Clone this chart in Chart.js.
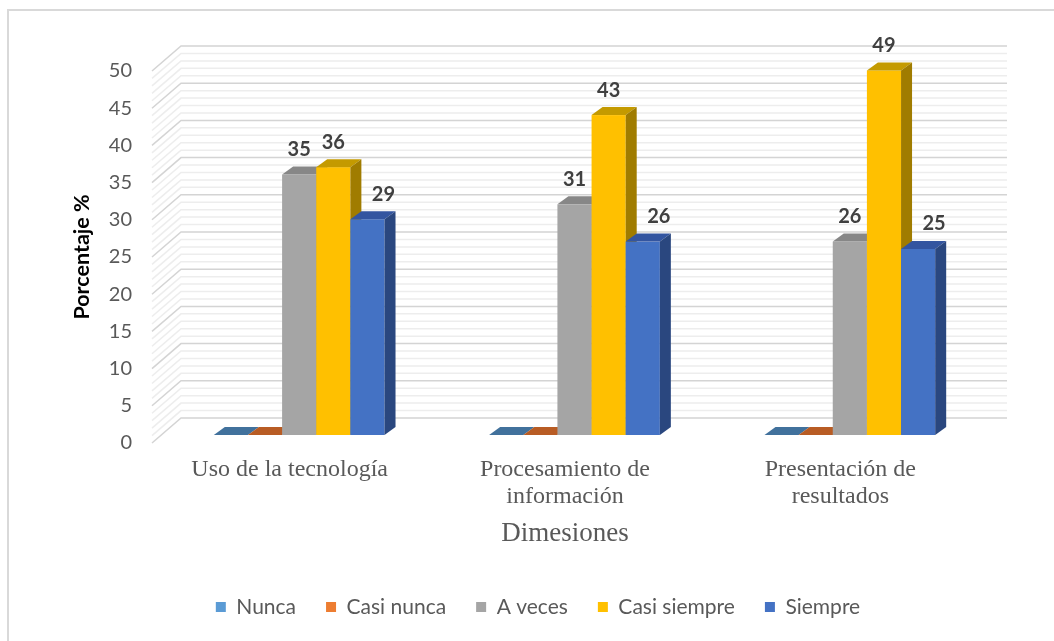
<!DOCTYPE html>
<html>
<head>
<meta charset="utf-8">
<script src="https://cdn.jsdelivr.net/npm/chart.js@4"></script>
<style>
  body { margin: 0; background: #fff; }
</style>
</head>
<body>
<canvas id="chart" width="1054" height="641"></canvas>
<script>
// Data
const categories = [
  ["Uso de la tecnología"],
  ["Procesamiento de", "información"],
  ["Presentación de", "resultados"]
];
const seriesNames = ["Nunca", "Casi nunca", "A veces", "Casi siempre", "Siempre"];
const nunca = [0, 0, 0];
const casiNunca = [0, 0, 0];
const aVeces = [35, 31, 26];
const casiSiempre = [36, 43, 49];
const siempre = [29, 26, 25];
const yTicks = [0, 5, 10, 15, 20, 25, 30, 35, 40, 45, 50];

// Face colours (front, top, side)
const frontColors = ["#5B9BD5", "#ED7D31", "#A5A5A5", "#FFC000", "#4472C4"];
const topColors = ["#41719C", "#B85C24", "#878787", "#C49A00", "#3355A0"];
const sideColors = ["#3A6690", "#A0501F", "#7C7C7C", "#A07C00", "#2A477F"];

// 3D geometry
const WALL_DX = 29, WALL_DY = -25;  // depth of the whole box
const BAR_DX = 9.5, BAR_DY = -8;    // where the bars sit in depth
const DEPTH_X = 11, DEPTH_Y = -8;   // depth of one bar

let seriesData = [nunca, casiNunca, aVeces, casiSiempre, siempre];

// Draws the frame and white background
const framePlugin = {
  id: "frame",
  beforeDraw(chart) {
    let ctx = chart.ctx;
    ctx.save();
    ctx.fillStyle = "#fff";
    ctx.fillRect(0, 0, chart.width, chart.height);
    ctx.strokeStyle = "#D9D9D9";
    ctx.lineWidth = 2;
    ctx.beginPath();
    ctx.moveTo(8, chart.height);
    ctx.lineTo(8, 10);
    ctx.lineTo(chart.width, 10);
    ctx.stroke();
    ctx.restore();
  }
};

// Draws back wall, 3D bars and value labels
const bars3dPlugin = {
  id: "bars3d",
  beforeDatasetsDraw(chart) {
    let ctx = chart.ctx;
    let yScale = chart.scales.y;
    let area = chart.chartArea;
    ctx.save();

    // back wall + left wall grid, major every 5, minor every 1
    for (let v = 0; v <= 50; v++) {
      let y = yScale.getPixelForValue(v);
      let major = v % 5 == 0;
      ctx.strokeStyle = major ? "#D4D4D4" : "#EDEDED";
      ctx.lineWidth = 1.5;
      ctx.beginPath();
      ctx.moveTo(area.left, y);
      ctx.lineTo(area.left + WALL_DX, y + WALL_DY);
      ctx.lineTo(area.right + WALL_DX, y + WALL_DY);
      ctx.stroke();
    }

    // bars, category by category, left to right
    for (let i = 0; i < categories.length; i++) {
      for (let d = 0; d < seriesData.length; d++) {
        let el = chart.getDatasetMeta(d).data[i];
        let x0 = el.x - el.width / 2 + BAR_DX;
        let x1 = el.x + el.width / 2 + BAR_DX;
        let yTop = el.y + BAR_DY;
        let yBase = el.base + BAR_DY;

        ctx.fillStyle = frontColors[d];
        ctx.fillRect(x0, yTop, x1 - x0, yBase - yTop);

        ctx.fillStyle = topColors[d];
        ctx.beginPath();
        ctx.moveTo(x0, yTop);
        ctx.lineTo(x0 + DEPTH_X, yTop + DEPTH_Y);
        ctx.lineTo(x1 + DEPTH_X, yTop + DEPTH_Y);
        ctx.lineTo(x1, yTop);
        ctx.closePath();
        ctx.fill();

        ctx.fillStyle = sideColors[d];
        ctx.beginPath();
        ctx.moveTo(x1, yTop);
        ctx.lineTo(x1 + DEPTH_X, yTop + DEPTH_Y);
        ctx.lineTo(x1 + DEPTH_X, yBase + DEPTH_Y);
        ctx.lineTo(x1, yBase);
        ctx.closePath();
        ctx.fill();
      }
    }

    // value labels (zeros are not labelled)
    ctx.font = "bold 20px Lato";
    ctx.fillStyle = "#404040";
    ctx.textAlign = "center";
    ctx.textBaseline = "middle";
    for (let i = 0; i < categories.length; i++) {
      for (let d = 0; d < seriesData.length; d++) {
        let v = seriesData[d][i];
        if (!v) continue;
        let el = chart.getDatasetMeta(d).data[i];
        let shift = d == seriesData.length - 1 ? 16 : 0;
        ctx.fillText(String(v), el.x + BAR_DX + shift, el.y + BAR_DY - 25);
      }
    }
    ctx.restore();
    return false;
  }
};

let datasets = seriesNames.map((name, d) => ({
  label: name,
  data: seriesData[d],
  backgroundColor: frontColors[d],
  borderWidth: 0
}));

new Chart(document.getElementById("chart"), {
  type: "bar",
  data: { labels: categories, datasets: datasets },
  options: {
    responsive: false,
    animation: false,
    layout: { padding: { left: 66, right: 44, top: 71, bottom: 13.5 } },
    datasets: { bar: { categoryPercentage: 0.62, barPercentage: 1 } },
    plugins: {
      tooltip: { enabled: false },
      legend: {
        position: "bottom",
        labels: {
          boxWidth: 10,
          boxHeight: 10,
          padding: 30,
          color: "#595959",
          font: { family: "Lato", size: 21 }
        }
      }
    },
    scales: {
      x: {
        grid: { display: false, drawTicks: false },
        border: { display: false },
        ticks: {
          padding: 13,
          color: "#595959",
          maxRotation: 0,
          font: { family: "Liberation Serif", size: 24, lineHeight: 1.12 }
        },
        title: {
          display: true,
          text: "Dimesiones",
          color: "#595959",
          padding: { top: 0, bottom: 16 },
          font: { family: "Liberation Serif", size: 27 }
        },
        afterFit(scale) { scale.height = 123.5; }
      },
      y: {
        min: 0,
        max: 50,
        grid: { display: false, drawTicks: false },
        border: { display: false },
        afterBuildTicks(scale) { scale.ticks = yTicks.map(v => ({ value: v })); },
        ticks: {
          padding: 20,
          color: "#595959",
          font: { family: "Lato", size: 20 }
        },
        title: {
          display: true,
          text: "Porcentaje %",
          color: "#000",
          padding: { top: 3, bottom: 0 },
          font: { family: "Lato", size: 21.5, weight: "bold" }
        },
        afterFit(scale) { scale.width = 86; }
      },
      // empty right axis, only keeps the plot area clear of the right edge
      yRight: {
        position: "right",
        grid: { display: false },
        border: { display: false },
        ticks: { display: false },
        afterFit(scale) { scale.width = 32; }
      }
    }
  },
  plugins: [framePlugin, bars3dPlugin]
});
</script>
</body>
</html>
